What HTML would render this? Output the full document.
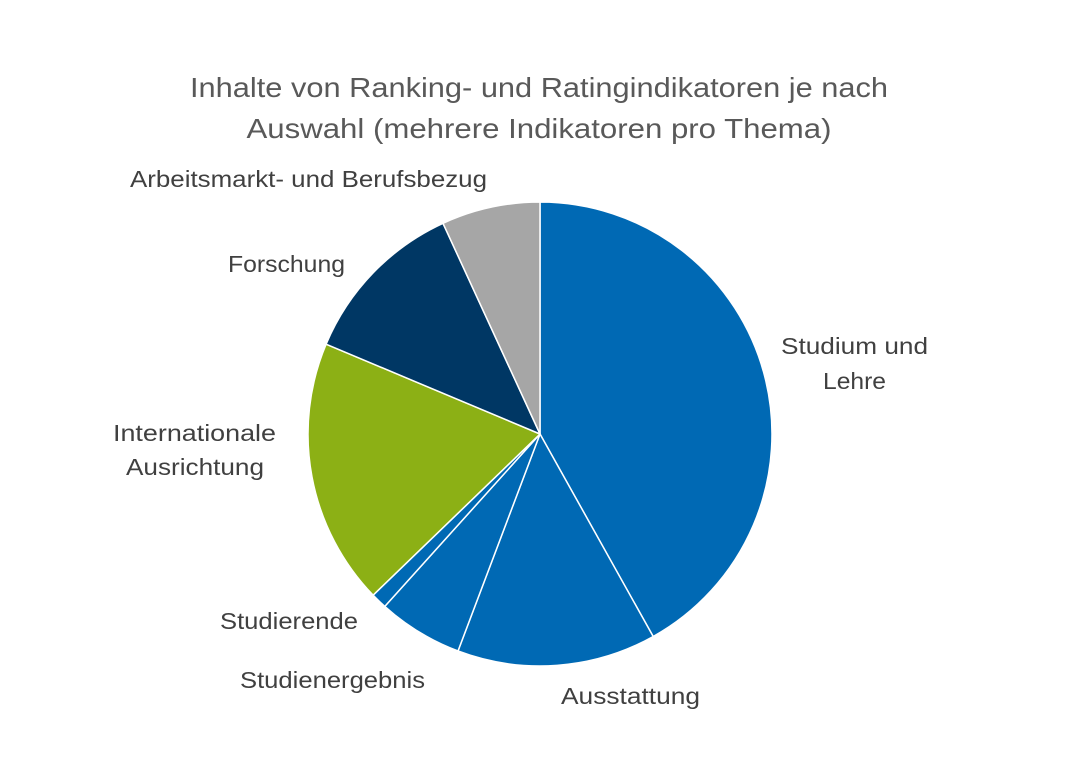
<!DOCTYPE html>
<html><head><meta charset="utf-8"><style>
body{margin:0;background:#fff;}
svg text{font-family:"Liberation Sans",Arial,sans-serif;}
</style></head><body>
<svg width="1080" height="779" viewBox="0 0 1080 779" xmlns="http://www.w3.org/2000/svg">
<rect width="1080" height="779" fill="#fff"/>
<text x="539" y="97" text-anchor="middle" font-size="28" fill="#595959" textLength="698" lengthAdjust="spacingAndGlyphs">Inhalte von Ranking- und Ratingindikatoren je nach</text>
<text x="539" y="138" text-anchor="middle" font-size="28" fill="#595959" textLength="585" lengthAdjust="spacingAndGlyphs">Auswahl (mehrere Indikatoren pro Thema)</text>
<g stroke="#fff" stroke-width="1.5" stroke-linejoin="round">
<path d="M540,434 L540,202 A232,232 0 0,1 653.2,636.5 Z" fill="#0069B4"/>
<path d="M540,434 L653.2,636.5 A232,232 0 0,1 458.0,651.0 Z" fill="#0069B4"/>
<path d="M540,434 L458.0,651.0 A232,232 0 0,1 384.8,606.4 Z" fill="#0069B4"/>
<path d="M540,434 L384.8,606.4 A232,232 0 0,1 373.1,595.2 Z" fill="#0069B4"/>
<path d="M540,434 L373.1,595.2 A232,232 0 0,1 326.1,344.2 Z" fill="#8CB015"/>
<path d="M540,434 L326.1,344.2 A232,232 0 0,1 443.0,223.3 Z" fill="#003764"/>
<path d="M540,434 L443.0,223.3 A232,232 0 0,1 540,202 Z" fill="#A6A6A6"/>
</g>
<g font-size="23" fill="#404040" lengthAdjust="spacingAndGlyphs">
<text x="308.5" y="187" text-anchor="middle" textLength="357" lengthAdjust="spacingAndGlyphs">Arbeitsmarkt- und Berufsbezug</text>
<text x="286.5" y="272" text-anchor="middle" textLength="117" lengthAdjust="spacingAndGlyphs">Forschung</text>
<text x="854.5" y="354" text-anchor="middle" textLength="147" lengthAdjust="spacingAndGlyphs">Studium und</text>
<text x="854.5" y="389" text-anchor="middle" textLength="63" lengthAdjust="spacingAndGlyphs">Lehre</text>
<text x="194.5" y="441" text-anchor="middle" textLength="163" lengthAdjust="spacingAndGlyphs">Internationale</text>
<text x="195" y="475" text-anchor="middle" textLength="138" lengthAdjust="spacingAndGlyphs">Ausrichtung</text>
<text x="289" y="629" text-anchor="middle" textLength="138" lengthAdjust="spacingAndGlyphs">Studierende</text>
<text x="332.5" y="688" text-anchor="middle" textLength="185" lengthAdjust="spacingAndGlyphs">Studienergebnis</text>
<text x="630.5" y="704" text-anchor="middle" textLength="139" lengthAdjust="spacingAndGlyphs">Ausstattung</text>
</g>
</svg>
</body></html>
